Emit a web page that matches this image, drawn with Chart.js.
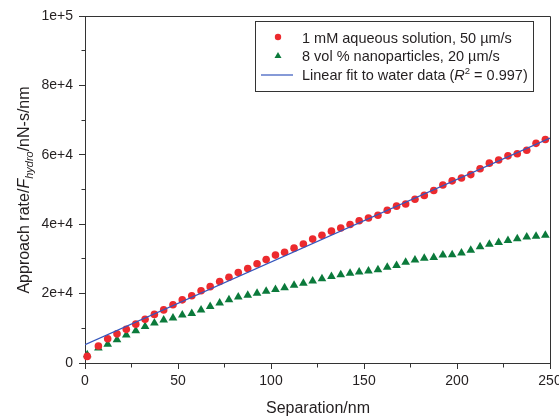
<!DOCTYPE html>
<html>
<head>
<meta charset="utf-8">
<script src="https://cdn.jsdelivr.net/npm/chart.js@4.4.0/dist/chart.umd.min.js"></script>
<style>
html,body{margin:0;padding:0;background:#fff;}
#wrap{width:559px;height:418px;}
</style>
</head>
<body>
<div id="wrap"><canvas id="chart1" width="559" height="418"></canvas></div>
<script>
// separation (nm)
var separation = [1.2, 7.2, 12.2, 17.2, 22.2, 27.3, 32.3, 37.3, 42.3, 47.3,
    52.3, 57.4, 62.4, 67.3, 72.4, 77.4, 82.4, 87.5, 92.5, 97.4,
    102.4, 107.3, 112.4, 117.4, 122.4, 127.4, 132.5, 137.5, 142.5, 147.4,
    152.4, 157.5, 162.5, 167.5, 172.4, 177.4, 182.4, 187.5, 192.4, 197.4,
    202.4, 207.4, 212.4, 217.4, 222.4, 227.4, 232.4, 237.5, 242.5, 247.5];
// 1 mM aqueous solution
var waterRate = [1900, 4900, 7000, 8400, 9700, 11200, 12600, 14000, 15300, 16800,
    18200, 19400, 20800, 22000, 23500, 24700, 26100, 27200, 28600, 29800,
    31100, 31900, 33100, 34300, 35700, 36800, 38000, 38900, 39900, 41000,
    41800, 42600, 44000, 45200, 45800, 47200, 48300, 49700, 51300, 52500,
    53300, 54300, 56000, 57600, 58500, 59700, 60300, 61300, 63300, 64400];
// 8 vol % nanoparticles
var nanoRate = [2400, 4300, 5400, 6700, 8100, 9300, 10500, 11500, 12400, 13000,
    13800, 14300, 15300, 16300, 17300, 18200, 19000, 19500, 20100, 20700,
    21200, 21700, 22400, 23000, 23600, 24300, 24900, 25400, 25900, 26200,
    26500, 26900, 27600, 28100, 29000, 29700, 30200, 30400, 31100, 31200,
    31700, 32500, 33500, 34200, 34700, 35300, 35800, 36300, 36500, 36800];
// linear fit end points
var fitX = [0, 250];
var fitY = [5300, 64800];

var xTicks = [0, 50, 100, 150, 200, 250];
var xMinor = [25, 75, 125, 175, 225];
var yTicks = [0, 20000, 40000, 60000, 80000, 100000];
var yMinor = [10000, 30000, 50000, 70000, 90000];

var legendLabels = ["1 mM aqueous solution, 50 \u00b5m/s", "8 vol % nanoparticles, 20 \u00b5m/s", "Linear fit to water data ("];

var fontFam = "'Liberation Sans', Arial, sans-serif";
var txtColor = "#231f20";
var axisColor = "#333333";
var redColor = "#ec2a2e";
var greenColor = "#0b7a3b";
var blueColor = "#3556bd";

function toPoints(xs, ys){
    var pts = [];
    for(var i=0;i<xs.length;i++){
        pts.push({x: xs[i], y: ys[i]});
    }
    return pts;
}

// draws a run of text pieces with their own font / baseline shift
function drawParts(ctx, parts, x, y){
    var cx = x;
    for(var i=0;i<parts.length;i++){
        ctx.font = parts[i].f;
        ctx.fillText(parts[i].t, cx, y + (parts[i].dy || 0));
        cx += ctx.measureText(parts[i].t).width;
    }
}
function partsWidth(ctx, parts){
    var w = 0;
    for(var i=0;i<parts.length;i++){
        ctx.font = parts[i].f;
        w += ctx.measureText(parts[i].t).width;
    }
    return w;
}

var decorPlugin = {
    id: "decor",
    afterDraw: function(chart){
        var ctx = chart.ctx;
        var ca = chart.chartArea;
        var xs = chart.scales.x;
        var ys = chart.scales.y;
        var L = Math.floor(ca.left)+0.5, R = Math.floor(ca.right)+0.5;
        var T = Math.floor(ca.top)+0.5, B = Math.floor(ca.bottom)+0.5;
        ctx.save();
        ctx.strokeStyle = axisColor;
        ctx.lineWidth = 1;
        ctx.beginPath();
        ctx.moveTo(L, T); ctx.lineTo(R, T); ctx.lineTo(R, B);
        ctx.stroke();

        // minor ticks
        ctx.beginPath();
        for(var i=0;i<xMinor.length;i++){
            var px = Math.floor(xs.getPixelForValue(xMinor[i]))+0.5;
            ctx.moveTo(px, B); ctx.lineTo(px, B+4);
        }
        for(var j=0;j<yMinor.length;j++){
            var py = Math.floor(ys.getPixelForValue(yMinor[j]))+0.5;
            ctx.moveTo(L, py); ctx.lineTo(L-4, py);
        }
        ctx.stroke();

        // legend box
        ctx.strokeRect(255.5, 21.5, 278, 70);
        ctx.fillStyle = redColor;
        ctx.beginPath();
        ctx.arc(278, 37, 3.2, 0, Math.PI*2);
        ctx.fill();
        ctx.fillStyle = greenColor;
        ctx.beginPath();
        ctx.moveTo(278, 52); ctx.lineTo(281.5, 58); ctx.lineTo(274.5, 58);
        ctx.closePath();
        ctx.fill();
        ctx.strokeStyle = blueColor;
        ctx.lineWidth = 1.2;
        ctx.beginPath();
        ctx.moveTo(261, 75); ctx.lineTo(293, 75);
        ctx.stroke();

        ctx.fillStyle = txtColor;
        ctx.textBaseline = "alphabetic";
        ctx.textAlign = "left";
        var nf = "14.5px " + fontFam;
        var itf = "italic 14.5px " + fontFam;
        drawParts(ctx, [{t: legendLabels[0], f: nf}], 302, 43);
        drawParts(ctx, [{t: legendLabels[1], f: nf}], 302, 61);
        drawParts(ctx, [{t: legendLabels[2], f: nf}, {t: "R", f: itf},
            {t: "2", f: "9.5px " + fontFam, dy: -6}, {t: " = 0.997)", f: nf}], 302, 80);

        // x title
        var xt = [{t: "Separation/nm", f: "16px " + fontFam}];
        var xw = partsWidth(ctx, xt);
        drawParts(ctx, xt, 318 - xw/2, 413);

        // y title, rotated
        var yt = [{t: "Approach rate/", f: "16px " + fontFam},
            {t: "F", f: "italic 16px " + fontFam},
            {t: "hydro", f: "italic 11px " + fontFam, dy: 4},
            {t: "/nN-s/nm", f: "16px " + fontFam}];
        var yw = partsWidth(ctx, yt);
        ctx.translate(29, 190);
        ctx.rotate(-Math.PI/2);
        drawParts(ctx, yt, -yw/2, 0);
        ctx.restore();
    }
};

var ctx_chart = document.getElementById("chart1").getContext("2d");
var chart = new Chart(ctx_chart, {
    type: "scatter",
    data: {
        datasets: [{
            label: "fit",
            type: "line",
            data: toPoints(fitX, fitY),
            borderColor: blueColor,
            borderWidth: 1.2,
            pointRadius: 0,
            fill: false,
            order: 0
        }, {
            label: "water",
            data: toPoints(separation, waterRate),
            backgroundColor: redColor,
            borderWidth: 0,
            pointStyle: "circle",
            pointRadius: 3.8,
            clip: false,
            order: 1
        }, {
            label: "nano",
            data: toPoints(separation, nanoRate),
            backgroundColor: greenColor,
            borderWidth: 0,
            pointStyle: "triangle",
            pointRadius: 5,
            clip: false,
            order: 2
        }]
    },
    options: {
        responsive: false,
        animation: false,
        devicePixelRatio: 1,
        layout: { padding: { left: 0, top: 16, right: 9, bottom: 0 } },
        plugins: {
            legend: { display: false },
            tooltip: { enabled: false }
        },
        scales: {
            x: {
                type: "linear",
                min: 0,
                max: 250,
                afterBuildTicks: function(scale){
                    scale.ticks = xTicks.map(function(v){ return {value: v}; });
                },
                afterFit: function(scale){
                    scale.height = 55;
                    scale.paddingLeft = 0;
                    scale.paddingRight = 0;
                },
                grid: { drawOnChartArea: false, tickLength: 6, color: axisColor, tickColor: axisColor },
                border: { display: true, color: axisColor, width: 1 },
                ticks: {
                    color: txtColor,
                    padding: 4,
                    maxRotation: 0,
                    font: { family: fontFam, size: 14 }
                }
            },
            y: {
                type: "linear",
                min: 0,
                max: 100000,
                afterBuildTicks: function(scale){
                    scale.ticks = yTicks.map(function(v){ return {value: v}; });
                },
                afterFit: function(scale){
                    scale.width = 85;
                    scale.paddingTop = 0;
                    scale.paddingBottom = 0;
                },
                grid: { drawOnChartArea: false, tickLength: 6, color: axisColor, tickColor: axisColor },
                border: { display: true, color: axisColor, width: 1 },
                ticks: {
                    color: txtColor,
                    padding: 6,
                    font: { family: fontFam, size: 14 },
                    callback: function(v){
                        if(v == 0){
                            return "0";
                        }
                        return v.toExponential(0);
                    }
                }
            }
        }
    },
    plugins: [decorPlugin]
});
</script>
</body>
</html>
